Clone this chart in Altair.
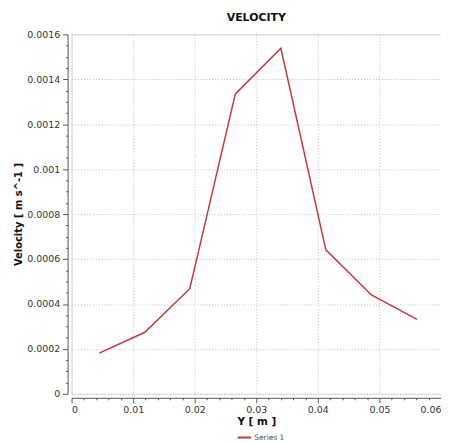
import altair as alt
import pandas as pd

# data
y_pos = [0.0045, 0.0119, 0.0192, 0.0266, 0.0340, 0.0413, 0.0487, 0.0561]
velocity = [0.000181, 0.000274, 0.000468, 0.001335, 0.001538, 0.000641, 0.000440, 0.000331]
series = ["Series 1"] * len(y_pos)

x_ticks = [round(i * 0.002, 4) for i in range(31)]
y_ticks = [round(i * 0.00005, 6) for i in range(33)]

df = pd.DataFrame({"Y": y_pos, "Velocity": velocity, "Series": series})

FONT = "DejaVu Sans"
LINE = "#c03a40"

x_major = "abs(datum.value/0.01 - round(datum.value/0.01)) < 0.001"
y_major = "abs(datum.value/0.0002 - round(datum.value/0.0002)) < 0.001"

x_axis = alt.Axis(
    title="Y [ m ]",
    values=x_ticks,
    labelExpr=f"({x_major}) ? format(datum.value, '~g') : ''",
    labelOverlap=False,
    labelFont=FONT, labelFontSize=9.5, labelColor="#333333", labelPadding=2,
    titleFont=FONT, titleFontSize=10.5, titleFontWeight="bold", titleColor="#111111", titlePadding=2,
    offset=4,
    domainColor="#555555",
    tickColor="#555555",
    tickSize={"condition": {"test": x_major, "value": 5}, "value": 2},
    grid=True,
    gridColor="#bdbdbd", gridDash=[1, 2], gridWidth=1,
    gridOpacity={"condition": {"test": x_major, "value": 1}, "value": 0},
)

y_axis = alt.Axis(
    title="Velocity [ m s^-1 ]",
    values=y_ticks,
    labelExpr=f"({y_major}) ? format(datum.value, '~g') : ''",
    labelOverlap=False,
    labelFont=FONT, labelFontSize=9.5, labelColor="#333333", labelPadding=3,
    titleFont=FONT, titleFontSize=10, titleFontWeight="bold", titleColor="#111111", titlePadding=3,
    offset=4,
    domainColor="#555555",
    tickColor="#555555",
    tickSize={"condition": {"test": y_major, "value": 5}, "value": 2},
    grid=True,
    gridColor="#bdbdbd", gridDash=[1, 2], gridWidth=1,
    gridOpacity={"condition": {"test": y_major, "value": 1}, "value": 0},
)

chart = (
    alt.Chart(df)
    .mark_line(strokeWidth=1.5)
    .encode(
        x=alt.X("Y:Q", scale=alt.Scale(domain=[0, 0.06], nice=False, zero=False), axis=x_axis),
        y=alt.Y("Velocity:Q", scale=alt.Scale(domain=[0, 0.0016], nice=False), axis=y_axis),
        color=alt.Color(
            "Series:N",
            scale=alt.Scale(range=[LINE]),
            legend=alt.Legend(
                title=None, orient="none", legendX=166, legendY=398,
                symbolType="stroke", symbolSize=180, symbolStrokeWidth=2,
                labelFont=FONT, labelFontSize=7.5, labelColor="#555555", labelOffset=2,
            ),
        ),
    )
    .properties(
        width=372,
        height=362,
        title=alt.TitleParams("VELOCITY", font=FONT, fontSize=11, fontWeight="bold", color="#111111", offset=6),
        autosize=alt.AutoSizeParams(type="none"),
        padding={"left": 64, "top": 25, "right": 0, "bottom": 48},
    )
    .configure_view(strokeWidth=0)
    .configure(background="white")
)

chart.save("out.html", embed_options={"renderer": "svg", "actions": False})
